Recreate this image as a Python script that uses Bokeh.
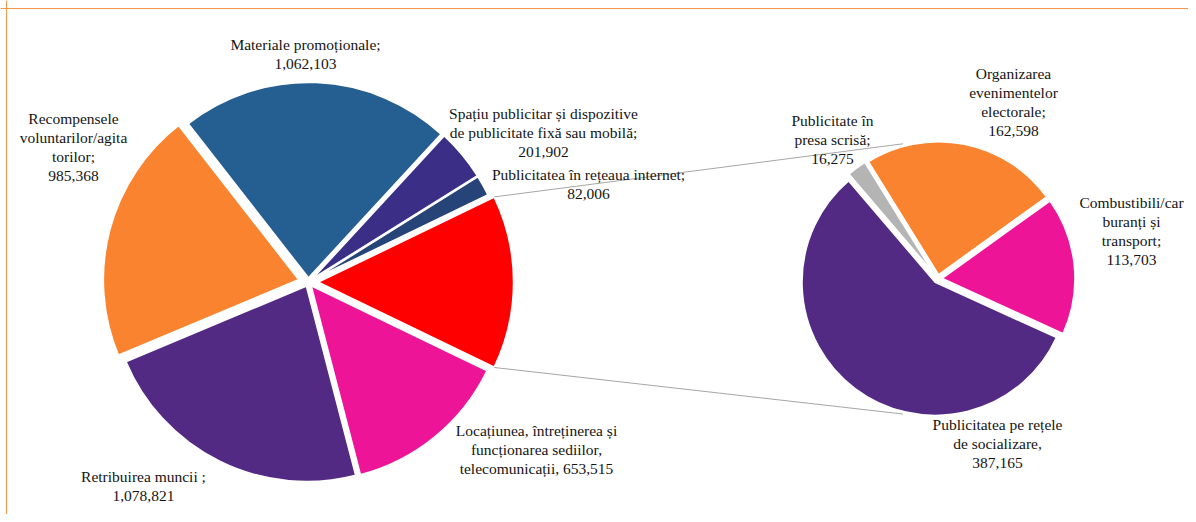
import math
from bokeh.plotting import figure
from bokeh.models import Range1d, ColumnDataSource, Span
from bokeh.core.properties import value
from bokeh.embed import file_html
from bokeh.resources import INLINE

# ---------------- data ----------------
# main pie slices, counter-clockwise, starting right after the "other" (red) slice
main_names = [
    "Publicitatea în rețeaua internet;",
    "Spațiu publicitar și dispozitive\nde publicitate fixă sau mobilă;",
    "Materiale promoționale;",
    "Recompensele\nvoluntarilor/agita\ntorilor;",
    "Retribuirea muncii ;",
    "Locațiunea, întreținerea și\nfuncționarea sediilor,\ntelecomunicații,",
]
main_values = [82006, 201902, 1062103, 985368, 1078821, 653515]

# secondary pie slices (breakdown of the red slice), counter-clockwise
sec_names = [
    "Combustibili/car\nburanți și\ntransport;",
    "Organizarea\nevenimentelor\nelectorale;",
    "Publicitate în\npresa scrisă;",
    "Publicitatea pe rețele\nde socializare,",
]
sec_values = [113703, 162598, 16275, 387165]

# ---------------- styles / layout ----------------
main_colors = ["#264478", "#3A2E86", "#255E91", "#F9832E", "#532A83", "#EE1498"]
other_color = "#FF0000"
sec_colors = ["#EE1498", "#F9832E", "#B4B4B4", "#532A83"]
main_explode = [4, 4, 4, 9.5, 4, 4]   # per slice, px
other_explode = 9.5
sec_explode = [4, 4, 4, 4]

W, H = 1188, 514
def px(xp):  # screen x -> data x
    return xp
def py(yp):  # screen y -> data y
    return H - yp

C1 = (px(307.8), py(281.7)); R1 = 196
C2 = (px(937.2), py(278.4)); R2 = 133.5
SEC_START = math.radians(-24.5)
CONN_ANG = math.radians(104.4)
CONN_GAP = 6

main_label_pos = [(588, 183.5), (543, 132), (305, 53.5), (73, 146.5), (143, 485.5), (536, 449)]
sec_label_pos = [(1131, 230.5), (1013, 101.5), (832, 139), (997, 443)]

def fmt(v):
    return f"{v:,}"

p = figure(width=W, height=H, x_range=Range1d(0, W), y_range=Range1d(0, H),
           output_backend="svg", toolbar_location=None,
           x_axis_location=None, y_axis_location=None, min_border=0)
p.outline_line_color = None
p.xgrid.visible = False
p.ygrid.visible = False
p.background_fill_color = "white"

def wedges(center, radius, values, colors, explode, start):
    total = sum(values)
    xs, ys, sa, ea = [], [], [], []
    a = start
    for v, e in zip(values, explode):
        span = 2 * math.pi * v / total
        mid = a + span / 2
        xs.append(center[0] + e * math.cos(mid))
        ys.append(center[1] + e * math.sin(mid))
        sa.append(a)
        ea.append(a + span)
        a += span
    src = ColumnDataSource(dict(x=xs, y=ys, s=sa, e=ea, c=colors))
    p.wedge(x="x", y="y", radius=radius, start_angle="s", end_angle="e",
            fill_color="c", line_color="white", line_width=2, source=src)

other_value = sum(sec_values)
all_main_values = [other_value] + main_values
all_main_colors = [other_color] + main_colors
half_other = math.pi * other_value / sum(all_main_values)
wedges(C1, R1, all_main_values, all_main_colors, [other_explode] + main_explode, -half_other)
wedges(C2, R2, sec_values, sec_colors, sec_explode, SEC_START)

# connector lines
for sgn in (1, -1):
    a1 = sgn * half_other
    x0 = C1[0] + other_explode + R1 * math.cos(a1)
    y0 = C1[1] + R1 * math.sin(a1)
    a2 = sgn * CONN_ANG
    x1 = C2[0] + (R2 + CONN_GAP) * math.cos(a2)
    y1 = C2[1] + (R2 + CONN_GAP) * math.sin(a2)
    p.line([x0, x1], [y0, y1], line_color="#A6A6A6", line_width=1)

# labels
def label_text(name, v):
    sep = " " if name.startswith("Loca") else "\n"
    return name + sep + fmt(v)

lx = [px(a) for a, b in main_label_pos] + [px(a) for a, b in sec_label_pos]
ly = [py(b) for a, b in main_label_pos] + [py(b) for a, b in sec_label_pos]
lt = [label_text(n, v) for n, v in zip(main_names, main_values)] + \
     [label_text(n, v) for n, v in zip(sec_names, sec_values)]
p.text(x="x", y="y", text="t", source=ColumnDataSource(dict(x=lx, y=ly, t=lt)),
       text_font=value("Liberation Serif"), text_font_size="15.5px",
       text_align="center", text_baseline="middle", text_color="#141414",
       text_line_height=1.1)

# chart frame (top and left edges visible)
p.add_layout(Span(location=py(8), dimension="width", line_color="#F79646", line_width=1))
p.add_layout(Span(location=px(6), dimension="height", line_color="#F79646", line_width=1))

open("out.html", "w").write(file_html(p, INLINE))
